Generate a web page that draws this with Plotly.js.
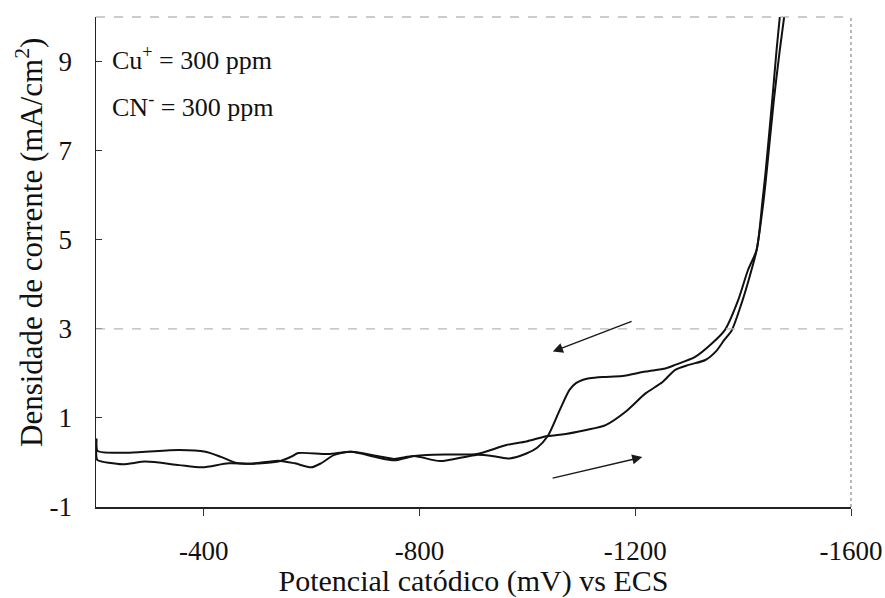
<!DOCTYPE html>
<html>
<head>
<meta charset="utf-8">
<script src="https://cdn.plot.ly/plotly-3.0.1.min.js"></script>
<style>html,body{margin:0;padding:0;background:#fff;}#chart{width:885px;height:598px;}</style>
</head>
<body>
<div id="chart"></div>
<script>
// Forward (cathodic) scan
const forwardX = [-200, -201, -203, -249, -292, -354, -397, -446, -489, -538, -569, -599, -617, -642, -673, -722, -753, -790, -814, -860, -906, -961, -998, -1035, -1060, -1109, -1145, -1182, -1219, -1250, -1274, -1299, -1330, -1350, -1365, -1379, -1397, -1412, -1425, -1438, -1444, -1457, -1468, -1476, -1481];
const forwardY = [0.48, 0.10, 0.05, -0.04, 0.02, -0.06, -0.11, -0.02, -0.03, 0.04, -0.02, -0.11, -0.02, 0.17, 0.24, 0.11, 0.05, 0.145, 0.17, 0.18, 0.19, 0.39, 0.47, 0.59, 0.62, 0.73, 0.84, 1.14, 1.55, 1.80, 2.08, 2.19, 2.30, 2.50, 2.75, 2.97, 3.57, 4.17, 4.77, 5.89, 6.57, 8.14, 9.26, 10.0, 10.6];
// Reverse (anodic) scan
const reverseX = [-1473, -1468, -1462, -1454, -1442, -1436, -1425, -1409, -1391, -1366, -1342, -1311, -1274, -1256, -1219, -1176, -1140, -1115, -1102, -1090, -1078, -1060, -1038, -1018, -998, -967, -943, -906, -838, -790, -753, -722, -673, -630, -575, -562, -538, -464, -433, -403, -354, -262, -203, -201, -200];
const reverseY = [10.6, 10.0, 9.26, 8.14, 6.57, 5.89, 4.77, 4.32, 3.65, 2.97, 2.67, 2.37, 2.19, 2.11, 2.04, 1.94, 1.92, 1.89, 1.85, 1.78, 1.63, 1.18, 0.60, 0.33, 0.20, 0.09, 0.13, 0.17, 0.03, 0.145, 0.08, 0.145, 0.24, 0.19, 0.21, 0.13, 0.02, -0.02, 0.12, 0.24, 0.28, 0.22, 0.26, 0.52, 0.12];

const xTicks = [-400, -800, -1200, -1600];
const yTicks = [-1, 1, 3, 5, 7, 9];
const gridY = 3;

// arrows: [tailX, tailY, headX, headY]
const arrowReverse = [-1196, 3.18, -1047, 2.49];
const arrowForward = [-1044, -0.36, -1213, 0.12];

const labels = ["Cu<sup>+</sup> = 300 ppm", "CN<sup>-</sup> = 300 ppm"];
const yTitle = 'Densidade de corrente (mA/cm<sup>2</sup>)';
const xTitle = 'Potencial catódico (mV) vs ECS';

const font = "'Times New Roman', 'Liberation Serif', 'DejaVu Serif', serif";
const lineStyle = {color: '#111', width: 2, shape: 'spline', smoothing: 0.7};

const traces = [
  {x: forwardX, y: forwardY, mode: 'lines', line: lineStyle, hoverinfo: 'skip'},
  {x: reverseX, y: reverseY, mode: 'lines', line: lineStyle, hoverinfo: 'skip'}
];

function arrow(a) {
  return {x: a[2], y: a[3], ax: a[0], ay: a[1], xref: 'x', yref: 'y', axref: 'x', ayref: 'y',
    showarrow: true, arrowhead: 2, arrowsize: 1.35, arrowwidth: 1.5, arrowcolor: '#1a1a1a', text: ''};
}

const layout = {
  width: 885, height: 598,
  margin: {l: 96, r: 34, t: 17, b: 91},
  paper_bgcolor: '#fff', plot_bgcolor: '#fff',
  showlegend: false,
  font: {family: font, color: '#111', size: 27},
  xaxis: {
    range: [-200, -1600], tickvals: xTicks, ticktext: xTicks.map(String),
    showgrid: false, zeroline: false, showline: true, linecolor: '#222', linewidth: 1.5,
    ticks: 'outside', ticklen: 7, tickcolor: '#333', ticklabelstandoff: 12,
    tickfont: {family: font, size: 27, color: '#111'},
    title: {text: xTitle, font: {family: font, size: 30, color: '#111'}, standoff: 0}
  },
  yaxis: {
    range: [-1, 10], tickvals: yTicks, ticktext: yTicks.map(String),
    showgrid: false, zeroline: false, showline: true, linecolor: '#222', linewidth: 1.5,
    ticks: 'inside', ticklen: 6, tickcolor: '#333', ticklabelstandoff: 17,
    tickfont: {family: font, size: 27, color: '#111'}
  },
  shapes: [
    {type: 'line', xref: 'paper', yref: 'y', x0: 0, x1: 1, y0: gridY, y1: gridY, line: {color: '#b8b8b8', width: 1.2, dash: 'dash'}},
    {type: 'line', xref: 'paper', yref: 'paper', x0: 0, x1: 1, y0: 1, y1: 1, line: {color: '#9a9a9a', width: 1.2, dash: 'dash'}},
    {type: 'line', xref: 'paper', yref: 'paper', x0: 1, x1: 1, y0: 0, y1: 1, line: {color: '#8a8a8a', width: 1.2, dash: 'dot'}}
  ],
  annotations: [
    arrow(arrowReverse), arrow(arrowForward),
    {text: yTitle, textangle: -90, xref: 'paper', yref: 'paper', x: -0.088, y: 0.54, xanchor: 'center', yanchor: 'middle', showarrow: false, font: {family: font, size: 31, color: '#111'}},
    {text: labels[0], xref: 'paper', yref: 'paper', x: 0.018, y: 0.915, xanchor: 'left', yanchor: 'middle', showarrow: false, font: {family: font, size: 26, color: '#111'}},
    {text: labels[1], xref: 'paper', yref: 'paper', x: 0.018, y: 0.82, xanchor: 'left', yanchor: 'middle', showarrow: false, font: {family: font, size: 26, color: '#111'}}
  ]
};

Plotly.newPlot('chart', traces, layout, {staticPlot: true, displayModeBar: false});
</script>
</body>
</html>
